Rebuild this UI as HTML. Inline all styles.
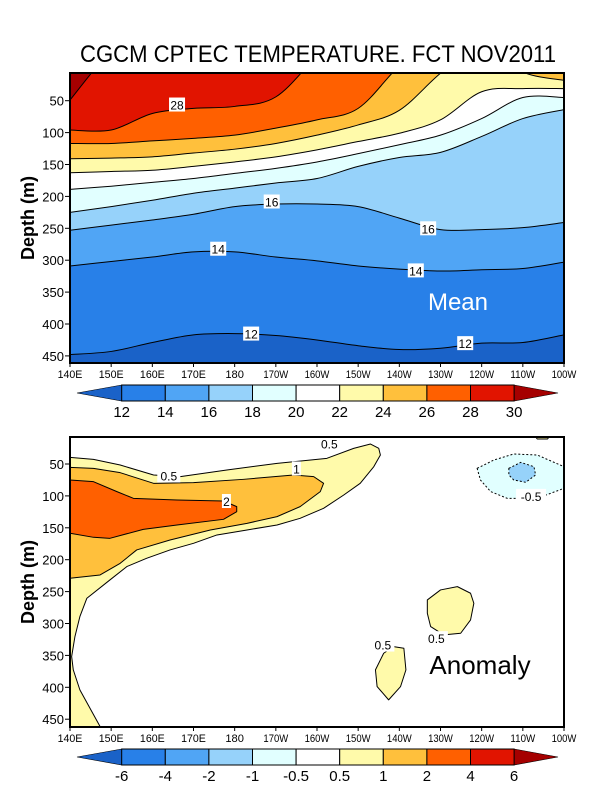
<!DOCTYPE html>
<html><head><meta charset="utf-8"><style>
html,body{margin:0;padding:0;background:#fff;}
svg{display:block;font-family:"Liberation Sans",sans-serif;}
</style></head><body>
<svg id="chart" width="600" height="800" viewBox="0 0 600 800" xmlns="http://www.w3.org/2000/svg">
<text x="318" y="62" text-anchor="middle" font-size="24" textLength="476" lengthAdjust="spacingAndGlyphs">CGCM CPTEC TEMPERATURE. FCT NOV2011</text>
<g id="top"></g>
<g id="bot"></g>
</svg>
<script>
const NS="http://www.w3.org/2000/svg";
const lons=[140,150,160,170,180,190,200,210,220,230,240,250,260];
const lonLabels=["140E","150E","160E","170E","180","170W","160W","150W","140W","130W","120W","110W","100W"];
const depthTicks=[50,100,150,200,250,300,350,400,450];
// Mean: isotherm depths (m) at each longitude
const meanLevels=[12,14,16,18,20,22,24,26,28,30];
const iso12=[448,443,429,417,415,418,425,434,440,438,430,429,417];
const iso14=[309,302,295,287,287,295,301,309,314,317,315,313,303];
const iso16=[253,245,237,228,216,212,212,216,234,252,252,249,241];
const iso18=[225,216,206,195,187,179,172,153,139,131,106,78,64];
const iso20=[189,184,178,172,164,156,146,133,119,104,78,45,45];
const iso22=[163,161,159,153,146,138,127,114,101,80,36,31,31];
const iso24=[141,140,138,132,126,117,104,88,65,7,-40,5,18];
const iso26=[117,117,113,109,104,93,80,62,-5,-60,-90,-90,-90];
const iso28=[96,96,70,62,59,44,-20,-80,-90,-90,-90,-90,-90];
const iso30=[49,-30,-90,-90,-90,-90,-90,-90,-90,-90,-90,-90,-90];
const isoDepths=[iso12,iso14,iso16,iso18,iso20,iso22,iso24,iso26,iso28,iso30];
const meanColors=["#1a62c8","#2880e8","#50a5f5","#96d2fa","#e1ffff","#ffffff","#fffaaa","#ffc03c","#ff6000","#e11400","#a50000"];
const meanLabels=[[28,166,56],[16,189,208],[16,227,250],[14,176,282],[14,224,316],[12,184,415],[12,236,430]];
// Anomaly contours as closed polygons [lon, depth]
const anom05=[[140,39.6],[145.7,42.7],[152.2,51.6],[160.3,67.2],[166.8,69.8],[178.1,59.4],[190.3,49],[202.4,41.1],[208.9,25.5],[213,18.7],[215,25.5],[215.4,35.9],[213.8,54.2],[210.5,80.3],[206.5,98.6],[201.6,119.5],[195.9,135.1],[190.3,145.6],[183,153.4],[175.7,161.2],[170,174.3],[164.3,184.7],[158.6,197.8],[153.8,210.8],[149.7,231.7],[144.1,260.4],[142.4,289.2],[141.2,320.5],[140.4,351.8],[140.8,372.7],[142.4,404],[147.3,461.5],[140,461.5]];
const anom1=[[140,55.2],[145.7,56.8],[152.2,63.6],[160.3,80.3],[170,79.2],[182.2,74],[194.3,67.2],[199.2,69.8],[201.6,80.3],[200.8,93.3],[195.9,116.8],[190.3,132.5],[183,143],[174.1,153.4],[164.3,169.1],[156.2,184.7],[152.2,205.6],[147.3,223.9],[140,229.1]];
const anom2=[[140,75.1],[145.7,77.7],[151.4,93.3],[155.4,103.8],[166,106.4],[177.3,108],[180.5,116.8],[180.5,124.7],[177.3,136.7],[166,145.6],[157.8,152.4],[149.7,166.5],[145.7,164.9],[140,158.6]];
const blobA=[[226.8,263.1],[230,247.4],[234.1,242.2],[237.3,252.6],[238.1,268.3],[237.3,294.4],[234.9,315.3],[230.8,317.9],[227.6,304.8],[226.8,284]];
const blobB=[[221.1,338.8],[221.6,372.7],[220.3,398.8],[217.4,419.7],[214.6,398.8],[214.2,372.7],[216.2,346.6],[218.6,336.2]];
const blobC=[[252.7,4],[256.8,4],[256,10.8],[253.5,10.8]];
const negA=[[238.9,56.8],[243,43.7],[247.8,34.3],[253.5,35.9],[260,54.2],[260,88.1],[253.5,103.8],[246.2,103.8],[242.2,93.3],[239.7,75.1]];
const negB=[[246.6,56.8],[249.5,47.4],[252.7,54.2],[253.1,67.2],[250.7,78.7],[247.8,75.1],[246.6,67.2]];
const anomPolys=[[anom05,"#fffaaa",false],[anom1,"#ffc03c",false],[anom2,"#ff6000",false],[blobA,"#fffaaa",false],[blobB,"#fffaaa",false],[blobC,"#fffaaa",false],[negA,"#e1ffff",true],[negB,"#96d2fa",true]];
const anomLabels=[["0.5",203,18],["0.5",164,68],["1",195,57],["2",178,108],["-0.5",252,100],["0.5",229,323],["0.5",216,333]];
const anomTicks=["-6","-4","-2","-1","-0.5","0.5","1","2","4","6"];
const anomColors=["#1a62c8","#2880e8","#50a5f5","#96d2fa","#e1ffff","#ffffff","#fffaaa","#ffc03c","#ff6000","#e11400","#a50000"];

const X0=70,X1=564;
function xs(lon){return X0+(lon-140)*(X1-X0)/120;}
function mk(tag,attrs,parent){const e=document.createElementNS(NS,tag);for(const k in attrs)e.setAttribute(k,attrs[k]);parent.appendChild(e);return e;}
function smooth(p){ // catmull-rom open path through points
  let s="M"+p[0][0]+","+p[0][1];
  for(let i=0;i<p.length-1;i++){
    const p0=p[Math.max(0,i-1)],p1=p[i],p2=p[i+1],p3=p[Math.min(p.length-1,i+2)];
    const c1=[p1[0]+(p2[0]-p0[0])/6,p1[1]+(p2[1]-p0[1])/6];
    const c2=[p2[0]-(p3[0]-p1[0])/6,p2[1]-(p3[1]-p1[1])/6];
    s+=` C${c1[0]},${c1[1]} ${c2[0]},${c2[1]} ${p2[0]},${p2[1]}`;
  }
  return s;
}
function panel(g,top,bottom,y50,name){
  const ys=d=>y50+(d-50)*0.638;
  const cp=mk("clipPath",{id:"clip-"+name},g);
  mk("rect",{x:X0,y:top,width:X1-X0,height:bottom-top},cp);
  const inner=mk("g",{"clip-path":"url(#clip-"+name+")"},g);
  return {ys,inner};
}
function axes(g,top,bottom,ys,name){
  const frame=mk("rect",{x:X0,y:top,width:X1-X0,height:bottom-top,fill:"none",stroke:"#000","stroke-width":2},g);
  
  
  depthTicks.forEach(d=>{
    const y=ys(d);
    mk("line",{x1:X0-5,x2:X0,y1:y,y2:y,stroke:"#000"},g);
    const t=mk("text",{x:X0-6,y:y+5,"text-anchor":"end","font-size":13},g);
    t.textContent=d;
    
    
  });
  lons.forEach((l,i)=>{
    const x=xs(l);
    mk("line",{x1:x,x2:x,y1:bottom,y2:bottom+4,stroke:"#000"},g);
    const t=mk("text",{x:x,y:bottom+15,"text-anchor":"middle","font-size":11,textLength:lonLabels[i].length*6.2,lengthAdjust:"spacingAndGlyphs"},g);
    t.textContent=lonLabels[i];
    
    
  });
  const cy=(top+bottom)/2;
  const yt=mk("text",{x:0,y:0,transform:`translate(34,${cy}) rotate(-90)`,"text-anchor":"middle","font-size":18,"font-weight":"bold"},g);
  yt.textContent="Depth (m)";
  
  
}
function colorbar(g,y,colors,labels,name){
  const bx0=121.7,w=43.6,h=16;
  const cb=mk("g",{},g);
  
  
  const l=mk("polygon",{points:`${bx0},${y} 77,${y+h/2} ${bx0},${y+h}`,fill:colors[0],stroke:"#000","stroke-width":0.6},cb);
  
  
  const re=bx0+w*(colors.length-2);
  const r=mk("polygon",{points:`${re},${y} 558,${y+h/2} ${re},${y+h}`,fill:colors[colors.length-1],stroke:"#000","stroke-width":0.6},cb);
  
  
  for(let i=1;i<colors.length-1;i++){
    const b=mk("rect",{x:bx0+w*(i-1),y:y,width:w,height:h,fill:colors[i],stroke:"#000","stroke-width":1},cb);
    
    
  }
  labels.forEach((s,i)=>{
    const t=mk("text",{x:bx0+w*i,y:y+h+16,"text-anchor":"middle","font-size":15},cb);
    t.textContent=s;
    
    
  });
}
function label(g,txt,x,y,name){
  const w=txt.length*7+2;
  mk("rect",{x:x-w/2,y:y-7,width:w,height:14,fill:"#fff"},g);
  const t=mk("text",{x:x,y:y+5,"text-anchor":"middle","font-size":12},g);
  t.textContent=txt;
  
  
}

// ---- Top panel: mean
const TT=73,TB=363;
const topG=document.getElementById("top");


const P1=panel(topG,TT,TB,100.7,"mean");
const bg=mk("rect",{x:X0,y:TT,width:X1-X0,height:TB-TT,fill:meanColors[0]},P1.inner);


meanLevels.forEach((lev,k)=>{
  const d=isoDepths[k];
  const pts=d.map((v,i)=>[xs(lons[i]),P1.ys(v)]);
  const path=smooth(pts);
  const poly=mk("path",{d:path+` L${xs(260)},0 L${xs(140)},0 Z`,fill:meanColors[k+1]},P1.inner);
  
  
  const line=mk("path",{d:path,fill:"none",stroke:"#000","stroke-width":1},P1.inner);
  
  
});
meanLabels.forEach(([v,lon,dep])=>label(P1.inner,String(v),xs(lon),P1.ys(dep),'contour-label'));
const mt=mk("text",{x:458,y:310,"text-anchor":"middle","font-size":24,fill:"#fff"},topG);
mt.textContent="Mean";


axes(topG,TT,TB,P1.ys,"mean");
colorbar(topG,385,meanColors,["12","14","16","18","20","22","24","26","28","30"],"mean-colorbar");

// ---- Bottom panel: anomaly
const BT=437,BB=727;
const botG=document.getElementById("bot");


const P2=panel(botG,BT,BB,464,"anom");
anomPolys.forEach(([pts,col,dash])=>{
  const p=pts.map(([lo,de])=>xs(lo)+","+P2.ys(de)).join(" ");
  const a={points:p,fill:col,stroke:"#000","stroke-width":1,"stroke-linejoin":"round"};
  if(dash)a["stroke-dasharray"]="2,2";
  const el=mk("polygon",a,P2.inner);
  
  
});
anomLabels.forEach(([v,lon,dep])=>label(P2.inner,v,xs(lon),P2.ys(dep),'contour-label'));
const at=mk("text",{x:480,y:674,"text-anchor":"middle","font-size":26},botG);
at.textContent="Anomaly";


axes(botG,BT,BB,P2.ys,"anomaly");
colorbar(botG,749,anomColors,anomTicks,"anomaly-colorbar");
</script>
</body></html>
